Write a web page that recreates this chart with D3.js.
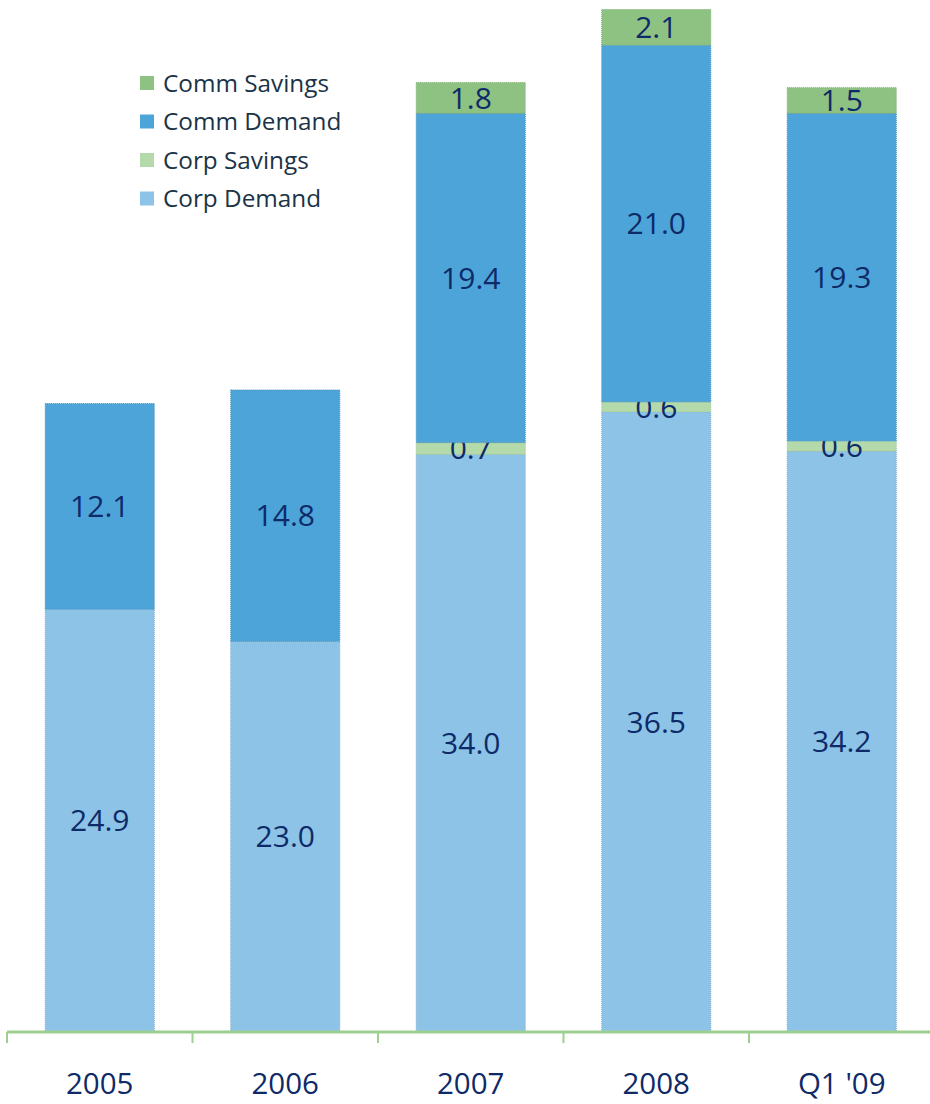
<!DOCTYPE html>
<html>
<head>
<meta charset="utf-8">
<script src="https://cdn.jsdelivr.net/npm/d3@7"></script>
<style>
  body { margin: 0; background: #fff; }
  svg { display: block; font-family: "Open Sans", sans-serif; }
</style>
</head>
<body>
<script>
var categories = ['2005', '2006', '2007', '2008', "Q1 '09"];
var seriesNames = ['Corp Demand', 'Corp Savings', 'Comm Demand', 'Comm Savings'];
var corpDemand = [24.9, 23.0, 34.0, 36.5, 34.2];
var corpSavings = [0, 0, 0.7, 0.6, 0.6];
var commDemand = [12.1, 14.8, 19.4, 21.0, 19.3];
var commSavings = [0, 0, 1.8, 2.1, 1.5];
var colors = ['#8cc3e6', '#b4d9aa', '#4da4d8', '#8ec282'];

var w = 930;
var h = 1104;

var rows = categories.map(function(c, i) {
  return {
    cat: c,
    'Corp Demand': corpDemand[i],
    'Corp Savings': corpSavings[i],
    'Comm Demand': commDemand[i],
    'Comm Savings': commSavings[i]
  };
});

var stack = d3.stack().keys(seriesNames)(rows);

var svg = d3.select('body')
  .append('svg')
  .attr('width', w)
  .attr('height', h);

/* ===== scales ===== */

var xScale = d3.scaleBand()
  .domain(categories)
  .range([7, 934.5])
  .paddingInner(0.412)
  .paddingOuter(0.206);

var yScale = d3.scaleLinear()
  .domain([0, 60.2])
  .range([1032, 9.5]);

/* ===== bars ===== */

var layers = svg.selectAll('g.layer')
  .data(stack)
  .enter()
  .append('g')
  .attr('class', 'layer')
  .attr('fill', function(d, i) { return colors[i]; });

layers.selectAll('rect')
  .data(function(d) { return d.filter(function(p) { return p[1] - p[0] > 0; }); })
  .enter()
  .append('rect')
  .attr('x', function(d) { return xScale(d.data.cat); })
  .attr('y', function(d) { return yScale(d[1]); })
  .attr('width', xScale.bandwidth())
  .attr('height', function(d) { return yScale(d[0]) - yScale(d[1]); })
  .attr('stroke', function() { return d3.color(d3.select(this.parentNode).attr('fill')).darker(0.3); })
  .attr('stroke-width', 1)
  .attr('stroke-dasharray', '1,1');

/* ===== value labels ===== */

layers.selectAll('text')
  .data(function(d) { return d.filter(function(p) { return p[1] - p[0] > 0; }); })
  .enter()
  .append('text')
  .attr('x', function(d) { return xScale(d.data.cat) + xScale.bandwidth() / 2; })
  .attr('y', function(d) { return (yScale(d[0]) + yScale(d[1])) / 2; })
  .attr('dy', '0.36em')
  .attr('text-anchor', 'middle')
  .attr('fill', '#0e2a68')
  .style('font-size', '30px')
  .text(function(d) { return d3.format('.1f')(d[1] - d[0]); });

/* ===== axis ===== */

var axisG = svg.append('g')
  .attr('transform', 'translate(0,1032)');

axisG.append('line')
  .attr('x1', 7).attr('x2', 930)
  .attr('stroke', '#9ccf90')
  .attr('stroke-width', 3);

var tickPos = categories.map(function(c) { return xScale(c) - xScale.step() * xScale.paddingInner() / 2; });
tickPos[0] = 7;

axisG.selectAll('line.tick')
  .data(tickPos)
  .enter()
  .append('line')
  .attr('class', 'tick')
  .attr('x1', function(d) { return d; })
  .attr('x2', function(d) { return d; })
  .attr('y1', 0)
  .attr('y2', 11)
  .attr('stroke', '#9ccf90')
  .attr('stroke-width', 2);

axisG.selectAll('text')
  .data(categories)
  .enter()
  .append('text')
  .attr('x', function(d) { return xScale(d) + xScale.bandwidth() / 2; })
  .attr('y', 62)
  .attr('text-anchor', 'middle')
  .attr('fill', '#0e2a68')
  .style('font-size', '29.5px')
  .text(function(d) { return d; });

/* ===== legend ===== */

var legendOrder = seriesNames.slice().reverse();

var legend = svg.selectAll('g.legend')
  .data(legendOrder)
  .enter()
  .append('g')
  .attr('class', 'legend')
  .attr('transform', function(d, i) { return 'translate(140,' + (83 + i * 38.5) + ')'; });

legend.append('rect')
  .attr('x', 0)
  .attr('y', -7)
  .attr('width', 14)
  .attr('height', 14)
  .attr('fill', function(d) { return colors[seriesNames.indexOf(d)]; });

legend.append('text')
  .attr('x', 23)
  .attr('dy', '0.36em')
  .attr('fill', '#1b3346')
  .style('font-size', '24.3px')
  .text(function(d) { return d; });
</script>
</body>
</html>
